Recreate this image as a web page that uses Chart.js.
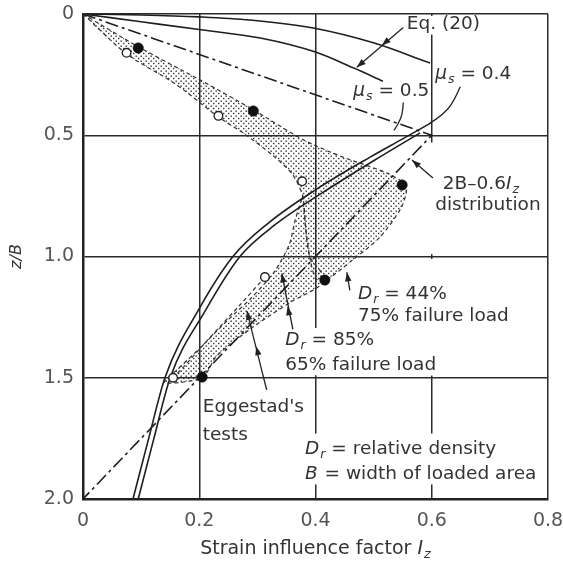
<!DOCTYPE html>
<html><head><meta charset="utf-8">
<script src="https://cdn.jsdelivr.net/npm/chart.js@4.4.1/dist/chart.umd.min.js"></script>
<style>html,body{margin:0;padding:0;background:#fff;}#wrap{width:563px;height:564px;position:relative;}</style>
</head><body><div id="wrap"><canvas id="c" width="563" height="564"></canvas></div>
<script>
// ---- axis ticks ----
const xTicks = [0, 0.2, 0.4, 0.6, 0.8];
const xTickLabels = ['0', '0.2', '0.4', '0.6', '0.8'];
const yTicks = [0, 0.5, 1.0, 1.5, 2.0];
const yTickLabels = ['0', '0.5', '1.0', '1.5', '2.0'];

// ---- Eq. (20) curves (upper) ----
const eqMu04X = [0, 0.1, 0.2, 0.287, 0.396, 0.501, 0.597];
const eqMu04Y = [0, 0.004, 0.012, 0.025, 0.058, 0.12, 0.202];
const eqMu05X = [0, 0.1, 0.2, 0.305, 0.4, 0.465, 0.516];
const eqMu05Y = [0, 0.032, 0.064, 0.099, 0.157, 0.222, 0.277];

// ---- lower solid curves ----
const lowMu05X = [0.086, 0.113, 0.141, 0.2, 0.258, 0.32, 0.4, 0.494, 0.55, 0.598];
const lowMu05Y = [2.0, 1.75, 1.5, 1.215, 1.0, 0.86, 0.725, 0.59, 0.515, 0.45];
const lowMu04X = [0.095, 0.122, 0.150, 0.21, 0.27, 0.33, 0.41, 0.5, 0.58];
const lowMu04Y = [2.0, 1.75, 1.5, 1.225, 1.0, 0.87, 0.74, 0.605, 0.49];

// ---- 2B-0.6Iz distribution ----
const distX = [0, 0.6, 0];
const distY = [0, 0.5, 2.0];

// ---- measured points ----
const dr44X = [0.095, 0.293, 0.549, 0.416, 0.205];
const dr44Y = [0.14, 0.40, 0.705, 1.097, 1.497];
const dr85X = [0.075, 0.233, 0.377, 0.313, 0.155];
const dr85Y = [0.16, 0.42, 0.69, 1.085, 1.50];

// ---- stippled envelopes ----
const envUpperX = [0, 0.095, 0.2, 0.293, 0.38, 0.447, 0.523, 0.556, 0.548, 0.511, 0.464, 0.416, 0.40, 0.39, 0.383, 0.378, 0.36, 0.325, 0.275, 0.233, 0.16, 0.075, 0];
const envUpperY = [0, 0.135, 0.27, 0.395, 0.52, 0.59, 0.656, 0.71, 0.796, 0.92, 1.014, 1.1, 1.09, 1.0, 0.88, 0.75, 0.66, 0.58, 0.49, 0.425, 0.29, 0.165, 0];
const envLowerX = [0.378, 0.383, 0.39, 0.416, 0.356, 0.293, 0.23, 0.205, 0.14, 0.165, 0.2, 0.25, 0.29, 0.33, 0.355, 0.365, 0.378];
const envLowerY = [0.75, 0.88, 1.0, 1.1, 1.19, 1.29, 1.41, 1.5, 1.52, 1.46, 1.38, 1.26, 1.17, 1.06, 0.95, 0.85, 0.75];
const midDashX = [0.313, 0.27, 0.22, 0.175, 0.155];
const midDashY = [1.085, 1.2, 1.33, 1.45, 1.5];

const pts = (xs, ys) => xs.map((x, i) => ({x, y: ys[i]}));

const canvas = document.getElementById('c');
const ctx0 = canvas.getContext('2d');
const tile = document.createElement('canvas');
tile.width = 5; tile.height = 5;
const tg = tile.getContext('2d');
tg.fillStyle = '#333';
[[0.5,0.5],[3,2.8]].forEach(([a,b]) => tg.fillRect(a, b, 1.4, 1.4));
const stipple = ctx0.createPattern(tile, 'repeat');

const FONT = '"DejaVu Sans", sans-serif';
const TXT = '#333';

// annotation texts (data anchors, left aligned, vertical middle)
const notes = [
  {x: 0.557, y: 0.041, segs: [{t: 'Eq. (20)'}]},
  {x: 0.606, y: 0.25, segs: [{t: 'μ', i: 1}, {t: 's', i: 1, sub: 1}, {t: ' = 0.4'}]},
  {x: 0.465, y: 0.32, segs: [{t: 'μ', i: 1}, {t: 's', i: 1, sub: 1}, {t: ' = 0.5'}]},
  {x: 0.619, y: 0.70, segs: [{t: '2B–0.6'}, {t: 'I', i: 1}, {t: 'z', i: 1, sub: 1}]},
  {x: 0.606, y: 0.79, segs: [{t: 'distribution'}]},
  {x: 0.473, y: 1.155, segs: [{t: 'D', i: 1}, {t: 'r', i: 1, sub: 1}, {t: ' = 44%'}]},
  {x: 0.473, y: 1.245, segs: [{t: '75% failure load'}]},
  {x: 0.348, y: 1.344, segs: [{t: 'D', i: 1}, {t: 'r', i: 1, sub: 1}, {t: ' = 85%'}]},
  {x: 0.348, y: 1.447, segs: [{t: '65% failure load'}]},
  {x: 0.206, y: 1.62, segs: [{t: "Eggestad's"}]},
  {x: 0.206, y: 1.736, segs: [{t: 'tests'}]},
  {x: 0.382, y: 1.794, segs: [{t: 'D', i: 1}, {t: 'r', i: 1, sub: 1}, {t: ' = relative density'}]},
  {x: 0.382, y: 1.897, segs: [{t: 'B', i: 1}, {t: ' = width of loaded area'}]}
];
// white masks behind texts (data rectangles x0,x1,y0,y1)
const masks = [
  [0.553, 0.69, 0.008, 0.085],
  [0.59, 0.61, 0.53, 0.99],
  [0.59, 0.61, 1.01, 1.49],
  [0.468, 0.785, 1.1, 1.29],
  [0.342, 0.62, 1.295, 1.49],
  [0.373, 0.785, 1.73, 1.94]
];
// leader lines and arrow tips
const leaders = [
  {p: [[0.551, 0.056], [0.471, 0.22]], arrows: [[0.514, 0.13], [0.471, 0.22]]},
  {p: [[0.551, 0.365], [0.55, 0.41], [0.543, 0.45], [0.535, 0.48]], arrows: []},
  {p: [[0.649, 0.30], [0.637, 0.367], [0.618, 0.417], [0.597, 0.45]], arrows: []},
  {p: [[0.602, 0.676], [0.566, 0.602]], arrows: [[0.566, 0.602]]},
  {p: [[0.459, 1.14], [0.454, 1.065]], arrows: [[0.454, 1.065]]},
  {p: [[0.361, 1.30], [0.342, 1.07]], arrows: [[0.352, 1.205], [0.342, 1.07]]},
  {p: [[0.316, 1.55], [0.282, 1.225]], arrows: [[0.298, 1.37], [0.282, 1.225]]}
];

function drawRich(ctx, segs, x, y, size) {
  let cx = x;
  ctx.textBaseline = 'middle';
  ctx.textAlign = 'left';
  ctx.fillStyle = TXT;
  for (const s of segs) {
    const fs = s.sub ? size * 0.68 : size;
    ctx.font = (s.i ? 'italic ' : '') + fs + 'px ' + FONT;
    ctx.fillText(s.t, cx, y + (s.sub ? size * 0.3 : 0));
    cx += ctx.measureText(s.t).width + (s.i && !s.sub ? 1 : 0);
  }
  return cx;
}

const annot = {
  id: 'annot',
  beforeDatasetsDraw(chart) {
    const {ctx, scales: {x, y}} = chart;
    ctx.save();
    ctx.fillStyle = '#fff';
    for (const m of masks) {
      const x0 = x.getPixelForValue(m[0]), x1 = Math.min(x.getPixelForValue(m[1]), chart.chartArea.right - 2);
      const y0 = y.getPixelForValue(m[2]), y1 = y.getPixelForValue(m[3]);
      ctx.fillRect(x0, y0, x1 - x0, y1 - y0);
    }
    ctx.restore();
  },
  afterDatasetsDraw(chart) {
    const {ctx, scales: {x, y}} = chart;
    ctx.save();
    ctx.strokeStyle = '#222';
    ctx.fillStyle = '#222';
    ctx.lineWidth = 1.3;
    for (const L of leaders) {
      const P = L.p.map(([a, b]) => [x.getPixelForValue(a), y.getPixelForValue(b)]);
      ctx.beginPath();
      ctx.moveTo(P[0][0], P[0][1]);
      if (P.length > 2) {
        for (let i = 1; i < P.length - 1; i++) {
          const mx = (P[i][0] + P[i + 1][0]) / 2, my = (P[i][1] + P[i + 1][1]) / 2;
          ctx.quadraticCurveTo(P[i][0], P[i][1], mx, my);
        }
        ctx.lineTo(P[P.length - 1][0], P[P.length - 1][1]);
      } else {
        ctx.lineTo(P[1][0], P[1][1]);
      }
      ctx.stroke();
      const dx = P[P.length - 1][0] - P[0][0], dy = P[P.length - 1][1] - P[0][1];
      const len = Math.hypot(dx, dy), ux = dx / len, uy = dy / len;
      for (const [a, b] of L.arrows) {
        const tx = x.getPixelForValue(a), ty = y.getPixelForValue(b);
        const bx = tx - ux * 9, by = ty - uy * 9;
        ctx.beginPath();
        ctx.moveTo(tx, ty);
        ctx.lineTo(bx - uy * 3.2, by + ux * 3.2);
        ctx.lineTo(bx + uy * 3.2, by - ux * 3.2);
        ctx.closePath();
        ctx.fill();
      }
    }
    for (const n of notes) {
      drawRich(ctx, n.segs, x.getPixelForValue(n.x), y.getPixelForValue(n.y), 18.5);
    }
    // axis titles
    const ca = chart.chartArea;
    const t1 = 'Strain influence factor ';
    ctx.font = '19px ' + FONT;
    const w1 = ctx.measureText(t1).width;
    ctx.font = 'italic 19px ' + FONT;
    const w2 = ctx.measureText('I').width;
    ctx.font = 'italic 13px ' + FONT;
    const w3 = ctx.measureText('z').width;
    const startX = (ca.left + ca.right) / 2 - (w1 + w2 + w3 + 1) / 2;
    drawRich(ctx, [{t: t1}, {t: 'I', i: 1}, {t: 'z', i: 1, sub: 1}], startX, 549, 19);
    ctx.translate(17, (ca.top + ca.bottom) / 2);
    ctx.rotate(-Math.PI / 2);
    ctx.font = 'italic 16px ' + FONT;
    ctx.textAlign = 'center';
    ctx.textBaseline = 'middle';
    ctx.fillStyle = TXT;
    ctx.fillText('z/B', 0, 0);
    ctx.restore();
  }
};

const solid = {showLine: true, pointRadius: 0, borderColor: '#1e1e1e', borderWidth: 1.6, fill: false};

new Chart(canvas, {
  type: 'scatter',
  data: {
    datasets: [
      {data: pts(dr44X, dr44Y), pointRadius: 5.2, pointBackgroundColor: '#111', pointBorderColor: '#111', pointBorderWidth: 0.5, showLine: false},
      {data: pts(dr85X, dr85Y), pointRadius: 4.3, pointBackgroundColor: '#fff', pointBorderColor: '#222', pointBorderWidth: 1.4, showLine: false},
      Object.assign({data: pts(eqMu04X, eqMu04Y), tension: 0.4, cubicInterpolationMode: 'monotone'}, solid),
      Object.assign({data: pts(eqMu05X, eqMu05Y), tension: 0.4, cubicInterpolationMode: 'monotone'}, solid),
      Object.assign({data: pts(lowMu05X, lowMu05Y), cubicInterpolationMode: 'monotone'}, solid),
      Object.assign({data: pts(lowMu04X, lowMu04Y), cubicInterpolationMode: 'monotone'}, solid),
      {data: pts(distX, distY), showLine: true, pointRadius: 0, borderColor: '#1e1e1e', borderWidth: 1.6, borderDash: [13, 4, 3, 4], fill: false, tension: 0},
      {data: pts(midDashX, midDashY), showLine: true, pointRadius: 0, borderColor: '#333', borderWidth: 1.2, borderDash: [4, 3], fill: false, tension: 0.3},
      {data: pts(envLowerX, envLowerY), showLine: true, pointRadius: 0, borderColor: '#333', borderWidth: 1.2, borderDash: [4, 3], backgroundColor: stipple, fill: 'shape', tension: 0.25},
      {data: pts(envUpperX, envUpperY), showLine: true, pointRadius: 0, borderColor: '#333', borderWidth: 1.2, borderDash: [4, 3], backgroundColor: stipple, fill: 'shape', tension: 0.25}
    ]
  },
  options: {
    animation: false,
    responsive: false,
    events: [],
    layout: {padding: {top: 14, right: 15, bottom: 0, left: 0}},
    plugins: {legend: {display: false}, tooltip: {enabled: false}},
    scales: {
      x: {
        type: 'linear', min: 0, max: 0.8,
        afterBuildTicks: s => { s.ticks = xTicks.map(v => ({value: v})); },
        afterFit: s => { s.height = 65; s.paddingLeft = 0; s.paddingRight = 0; },
        ticks: {callback: (v, i) => xTickLabels[i], font: {family: 'DejaVu Sans', size: 19}, color: '#555', padding: 11, maxRotation: 0},
        grid: {color: '#2a2a2a', lineWidth: 1.5, drawTicks: false},
        border: {display: true, color: '#222', width: 2.5}
      },
      y: {
        type: 'linear', min: 0, max: 2, reverse: true,
        afterBuildTicks: s => { s.ticks = yTicks.map(v => ({value: v})); },
        afterFit: s => { s.width = 83; s.paddingTop = 0; s.paddingBottom = 0; },
        ticks: {callback: (v, i) => yTickLabels[i], font: {family: 'DejaVu Sans', size: 19}, color: '#555', padding: 9},
        grid: {color: '#2a2a2a', lineWidth: 1.5, drawTicks: false},
        border: {display: true, color: '#222', width: 2.5}
      }
    }
  },
  plugins: [annot]
});
</script></body></html>
